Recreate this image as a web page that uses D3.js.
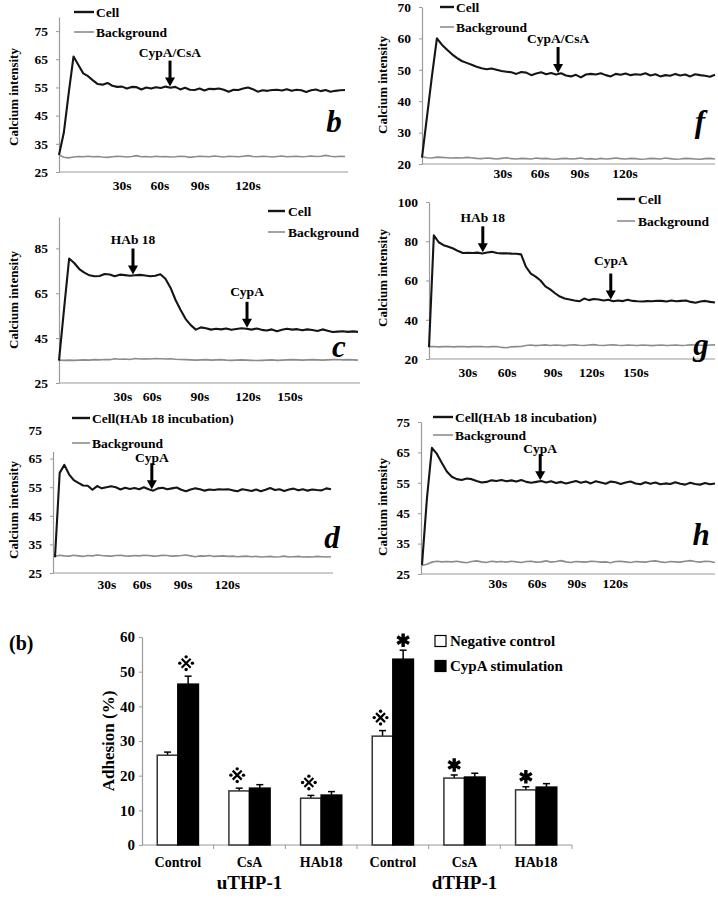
<!DOCTYPE html>
<html><head><meta charset="utf-8">
<script src="https://cdn.jsdelivr.net/npm/d3@7/dist/d3.min.js"></script>
<style>
body{margin:0;background:#fff}
svg{display:block}
text{font-family:"Liberation Serif","Times New Roman",serif;font-weight:bold;fill:#000}
</style>
</head><body>
<svg id="fig" width="718" height="899"></svg>
<script>
// ---------- Calcium traces (sampled values) ----------
const cellB = [31,39,53,66,63,60,59,57.5,56.2,56,
  56.6,55.6,55.2,55.3,54.6,55.2,55.1,54.3,55,54.6,
  55.1,54.8,55.3,54.9,55.2,54.3,54.9,54.2,54.1,54.6,
  53.9,54.5,54.4,54.6,54.2,53.5,54.2,54.1,54.6,55,
  54.4,53.5,54,53.8,54.1,54.2,53.9,54.4,53.8,54.2,
  54,53.4,54,54.3,53.7,54.1,53.5,53.8,54,54.1];
const bgB = [31.0,30.2,30.0,30.3,30.5,30.4,30.6,30.4,30.5,30.3,
  30.2,30.4,30.6,30.5,30.3,30.5,30.8,30.4,30.5,30.3,
  30.6,30.4,30.5,30.3,30.4,30.6,30.5,30.2,30.4,30.6,
  30.5,30.4,30.7,30.5,30.3,30.6,30.5,30.4,30.6,30.8,
  30.5,30.4,30.6,30.5,30.3,30.5,30.7,30.4,30.5,30.6,
  30.4,30.5,30.7,30.5,30.6,30.9,30.6,30.4,30.6,30.5];

const cellF = [22,35,48,60,58,56.5,55,53.8,52.8,52.2,
  51.6,51,50.5,50.2,50.4,50,49.6,49.4,49.2,48.7,
  49.3,49.1,48.3,48.8,49.2,48.6,49,48.5,48.9,48.2,
  47.9,48.4,47.6,48.5,48.7,48.5,48.9,48.3,47.9,48.7,
  48.4,48.8,48.3,48.6,48.4,48.9,48.2,48.6,47.9,48.3,
  48.1,48.7,48.2,48.5,47.9,48.6,48.3,48.1,47.8,48.4];
const bgF = [22.3,22.0,21.9,22.2,22.1,22.0,21.9,22.0,21.9,22.1,
  22.0,21.8,21.7,21.9,21.8,21.6,21.8,22.0,21.7,21.6,
  21.8,21.7,21.6,21.9,21.7,21.8,21.6,21.5,21.7,21.8,
  21.6,21.7,21.9,21.6,21.7,21.5,21.8,21.6,21.7,21.9,
  21.7,21.6,21.8,21.7,21.5,21.6,21.8,21.7,21.6,21.9,
  21.7,21.5,21.6,21.8,21.7,21.6,21.5,21.7,21.8,21.6];

const cellC = [35,58,80.5,78.5,75.8,74.2,73,72.6,72.7,73.6,
  73.4,72.6,73.3,73.1,72.8,73,73.2,72.9,72.6,72.8,
  73.5,71.5,67.5,62,57.5,53.5,50.8,48.8,49.8,49.4,
  48.8,49.2,48.9,49.3,48.7,49.1,49.4,49.2,48.8,49.3,
  48.7,48.4,48.9,48.1,48.7,49.2,48.8,49,48.5,48.9,
  48.6,48.2,48.9,48.3,47.7,47.9,48.1,47.8,48,47.8];
const bgC = [35.2,35.1,35.2,35.1,35.2,35.3,35.2,35.4,35.3,35.5,
  35.4,35.8,35.6,35.7,35.5,35.9,35.7,35.8,35.7,35.9,
  35.8,35.7,35.8,35.6,35.5,35.4,35.3,35.2,35.3,35.4,
  35.2,35.3,35.4,35.2,35.1,35.2,35.3,35.2,35.1,35.0,
  35.1,35.2,35.3,35.1,35.2,35.3,35.4,35.3,35.2,35.3,
  35.4,35.3,35.2,35.3,35.4,35.5,35.3,35.4,35.3,35.2];

const cellG = [26,83,79.5,78,77.2,76.3,75,74,74.1,74,
  74.2,73.8,74.3,74.6,74,73.8,73.9,73.7,73.6,73.3,
  67,63.5,62,60,57,55.5,53.5,51.8,50.8,50.3,
  49.8,49.4,50.8,50,50.6,50.3,49.8,50.2,49.4,49.8,
  49.5,50.2,49.6,49.4,49.3,49.5,49.4,49.7,49.6,49.3,
  49.8,49.4,49.6,49.8,49.1,48.7,49.3,49.6,49.1,48.8];
const bgG = [26.3,26.4,26.2,26.3,26.4,26.2,26.3,26.4,26.2,26.3,
  26.3,26.4,26.1,26.3,26.4,25.9,25.7,26.2,26.3,26.4,
  26.9,27.1,26.8,27.0,27.2,26.9,27.1,27.0,26.8,27.1,
  27.2,27.0,26.9,27.1,27.3,27.0,26.9,27.1,27.2,27.0,
  26.9,27.1,27.0,26.9,27.1,27.0,26.8,27.0,27.1,26.9,
  27.0,27.1,26.9,27.0,27.2,27.1,27.0,26.9,27.1,27.2];

const cellD = [30.5,60,62.8,59.5,57.5,56.5,55.6,55.5,54.1,55.4,
  54.6,55,55.3,55,54.2,54.8,54.4,54.7,54.3,55,
  54.3,53.8,54.6,54.8,54.3,54.6,54.9,54.1,53.6,54.2,
  54.6,54.3,53.8,54.2,54,54.3,54.2,54.3,53.9,53.6,
  54.3,54,53.7,54.2,53.6,54.1,54.7,54,54.3,53.7,
  54.2,54.5,53.9,54.3,53.8,54.2,54,53.9,54.6,54.3];
const bgD = [30.8,31.2,31.0,30.9,31.2,31.0,30.8,31.1,31.0,31.3,
  31.1,31.0,30.9,31.1,31.2,31.0,30.9,31.1,31.0,31.2,
  31.1,30.9,31.0,31.2,31.1,30.9,31.0,31.1,31.3,31.0,
  30.7,31.0,30.9,31.1,30.8,30.9,31.0,30.8,30.9,30.7,
  30.8,30.9,30.7,30.8,30.6,30.7,30.8,30.6,30.7,30.9,
  30.6,30.7,30.8,30.6,30.7,30.6,30.8,30.7,30.6,30.7];

const cellH = [28,50,66.5,64.5,61.5,58.7,57,56.2,55.9,56.4,
  56.2,55.6,55.1,55.3,55.8,55.6,55.9,55.5,55.8,55.4,
  55.9,55.3,55,55.3,55.6,55.1,55.5,54.9,55.3,54.8,
  55.2,55.6,55,55.4,54.8,55.5,55.1,54.7,55.4,55.2,
  54.6,55.1,55.4,54.8,54.5,55.2,54.7,55.1,54.5,54.8,
  54.6,55.2,54.7,54.4,55,54.6,54.4,54.9,54.5,54.8];
const bgH = [27.8,28.2,28.9,29.2,29.0,29.1,29.0,29.2,28.9,28.7,
  29.1,29.3,29.0,28.8,29.2,29.0,29.1,28.9,29.2,29.0,
  28.8,29.1,29.2,28.9,29.0,29.3,28.9,29.1,29.4,29.0,
  28.8,29.1,29.0,28.9,29.2,29.1,28.9,29.0,28.7,29.1,
  29.2,29.0,28.8,29.1,29.0,28.9,29.2,29.3,29.0,28.8,
  29.1,29.0,28.9,29.2,29.4,29.1,28.9,29.2,29.1,28.8];

// time tick labels and their sample positions
const timeLabels4 = ["30s","60s","90s","120s"];
const timeLabels5 = ["30s","60s","90s","120s","150s"];
const timeAtB = [13.0,20.8,29.1,39.0];
const timeAtF = [16.3,23.8,31.8,40.9];
const timeAtC = [12.6,18.4,27.8,37.3,45.6];
const timeAtG = [8.0,16.1,25.6,33.6,42.7];
const timeAtD = [11.1,18.6,27.4,36.8];
const timeAtH = [15.3,23.2,31.2,38.9];

const ticks25to75 = [25,35,45,55,65,75];
const ticks20to70 = [20,30,40,50,60,70];
const ticksC = [25,45,65,85];
const ticksG = [20,40,60,80,100];

// arrows: label + sample position
const arrowsB = [{label:"CypA/CsA", at:22.9}];
const arrowsF = [{label:"CypA/CsA", at:27.4}];
const arrowsC = [{label:"HAb 18", at:14.6}, {label:"CypA", at:37.1}];
const arrowsG = [{label:"HAb 18", at:11.1}, {label:"CypA", at:37.5}];
const arrowsD = [{label:"CypA", at:20.7}];
const arrowsH = [{label:"CypA", at:23.8}];

// ---------- Adhesion bar chart ----------
const cellGroups = ["uTHP-1","dTHP-1"];
const treatments = ["Control","CsA","HAb18","Control","CsA","HAb18"];
const seriesNames = ["Negative control","CypA stimulation"];
const negValues  = [25.9,15.6,13.5,31.4,19.3,15.9];
const negErrors  = [0.9,0.8,0.8,1.6,0.9,0.9];
const cypaValues = [46.4,16.4,14.4,53.6,19.6,16.7];
const cypaErrors = [2.3,1.0,1.0,2.6,1.1,1.0];
const adhesionTicks = [0,10,20,30,40,50,60];
const sigMarks = [
  {cat:0, s:1, sym:"ref"}, {cat:1, s:0, sym:"ref"}, {cat:2, s:0, sym:"ref"},
  {cat:3, s:0, sym:"ref"}, {cat:3, s:1, sym:"star"}, {cat:4, s:0, sym:"star"}, {cat:5, s:0, sym:"star"}
];

// ================= drawing =================
const svg = d3.select("#fig");
svg.append("rect").attr("width",718).attr("height",899).attr("fill","#fff");
const AX = "#9a9a9a";
const SERIF = "'Liberation Serif','Times New Roman',serif";

function valueAt(arr, t){
  const i = Math.floor(t), f = t - i;
  if (i >= arr.length-1) return arr[arr.length-1];
  return d3.interpolateNumber(arr[i], arr[i+1])(f);
}

function linePanel(cell, bg, times, timeLabels, yTicks, arrows, L){
  const g = svg.append("g");
  const x = d3.scaleLinear().domain([0, cell.length-1]).range([L.x0, L.x1]);
  const y = d3.scaleLinear().domain(L.yDomain).range([L.yBottom, L.yTop]);

  g.append("line").attr("x1",L.axisX).attr("x2",L.xEnd)
    .attr("y1",L.yBottom).attr("y2",L.yBottom).attr("stroke",AX).attr("stroke-width",1.2);
  const ag = g.append("g").attr("transform",`translate(${L.axisX},0)`)
    .call(d3.axisLeft(y).tickValues(yTicks).tickSize(3).tickSizeOuter(0).tickPadding(8).tickFormat(d3.format("d")));
  ag.attr("font-family",SERIF).attr("font-size",13);
  ag.select(".domain").attr("stroke",AX).attr("stroke-width",1.2);
  ag.selectAll(".tick line").attr("stroke",AX);
  ag.selectAll(".tick text").style("font-size","13.5px");

  if (L.cover) g.append("rect").attr("x",L.cover[0]).attr("y",L.cover[1])
    .attr("width",L.cover[2]).attr("height",L.cover[3]).attr("fill","#fff");

  // x labels
  g.selectAll(".xl").data(times).enter().append("text")
    .attr("x", d => x(d)).attr("y", L.labelY).attr("text-anchor","middle")
    .style("font-size","13.5px").text((d,i) => timeLabels[i]);

  // y title
  g.append("text").attr("transform",`translate(${L.titleX},${L.titleY}) rotate(-90)`)
    .attr("text-anchor","middle").attr("dy","0.35em").style("font-size","13px").text("Calcium intensity");

  const line = d3.line().x((d,i)=>x(i)).y(d=>y(d));
  g.append("path").datum(bg).attr("d",line).attr("fill","none").attr("stroke","#8c8c8c").attr("stroke-width",1.6);
  g.append("path").datum(cell).attr("d",line).attr("fill","none").attr("stroke","#151515").attr("stroke-width",2.1).attr("stroke-linejoin","round");

  // legend
  [[L.cellName,"#151515",2.4,L.ly[0]],["Background","#8c8c8c",1.6,L.ly[1]]].forEach(([nm,col,w,yy])=>{
    g.append("line").attr("x1",L.lx[0]).attr("x2",L.lx[1]).attr("y1",yy).attr("y2",yy).attr("stroke",col).attr("stroke-width",w);
    g.append("text").attr("x",L.lx[2]).attr("y",yy+4.5).style("font-size","13.5px").text(nm);
  });

  // arrows
  arrows.forEach((a,k)=>{
    const ax = x(a.at), tip = y(valueAt(cell,a.at)) - 1, top = tip - 26;
    g.append("line").attr("x1",ax).attr("x2",ax).attr("y1",top).attr("y2",tip-7).attr("stroke","#000").attr("stroke-width",3);
    g.append("path").attr("d",`M${ax-5},${tip-9}L${ax+5},${tip-9}L${ax},${tip}Z`).attr("fill","#000");
    g.append("text").attr("x",ax).attr("y",top - L.gaps[k]).attr("text-anchor","middle").style("font-size","13.5px").text(a.label);
  });

  g.append("text").attr("x",L.letter[1]).attr("y",L.letter[2]).attr("text-anchor","middle")
    .style("font-size","31px").style("font-style","italic").text(L.letter[0]);
}

linePanel(cellB, bgB, timeAtB, timeLabels4, ticks25to75, arrowsB, {
  x0:59,x1:345,axisX:59,xEnd:348,yDomain:[25,80],yBottom:172,yTop:17,labelY:190,
  titleX:13,titleY:97,lx:[74,94,96],ly:[12,32],cellName:"Cell",gaps:[4],letter:["b",334,132]});
linePanel(cellF, bgF, timeAtF, timeLabels4, ticks20to70, arrowsF, {
  x0:422,x1:715,axisX:422,xEnd:715,yDomain:[20,70],yBottom:164,yTop:7,labelY:178,
  titleX:382,titleY:85,lx:[440,454,456],ly:[7,27],cellName:"Cell",gaps:[4],letter:["f",700,132]});
linePanel(cellC, bgC, timeAtC, timeLabels5, ticksC, arrowsC, {
  x0:59,x1:358,axisX:59,xEnd:360,yDomain:[25,99],yBottom:383,yTop:217,labelY:401,
  titleX:13,titleY:300,lx:[268,285,288],ly:[211,232],cellName:"Cell",gaps:[5,6],letter:["c",339,357]});
linePanel(cellG, bgG, timeAtG, timeLabels5, ticksG, arrowsG, {
  x0:429,x1:715,axisX:429,xEnd:715,yDomain:[20,100],yBottom:359,yTop:202,labelY:377,
  titleX:382,titleY:278,lx:[617,635,638],ly:[199,221],cellName:"Cell",gaps:[4,9],letter:["g",701,355]});
linePanel(cellD, bgD, timeAtD, timeLabels4, ticks25to75, arrowsD, {
  x0:55,x1:331,axisX:53,xEnd:333,yDomain:[25,75],yBottom:573,yTop:430,labelY:589,
  titleX:13,titleY:510,lx:[72,90,92],ly:[418,443],cellName:"Cell(HAb 18 incubation)",gaps:[1],
  letter:["d",332,548],cover:[49,405,200,47]});
linePanel(cellH, bgH, timeAtH, timeLabels4, ticks25to75, arrowsH, {
  x0:422,x1:715,axisX:421,xEnd:715,yDomain:[25,75],yBottom:574,yTop:422,labelY:588,
  titleX:382,titleY:507,lx:[433,453,455],ly:[417,435],cellName:"Cell(HAb 18 incubation)",gaps:[1],letter:["h",701,545]});

// ---------- bar chart ----------
(function(){
  const g = svg.append("g");
  const x0 = d3.scaleBand().domain(d3.range(treatments.length)).range([142,572]).padding(0);
  const x1 = d3.scaleBand().domain([0,1]).range([0,x0.bandwidth()]).paddingInner(0).paddingOuter(0.74);
  const y = d3.scaleLinear().domain([0,60]).range([845,637]);
  const vals = [negValues, cypaValues], errs = [negErrors, cypaErrors];

  g.append("text").attr("x",9).attr("y",650).style("font-size","20px").text("(b)");

  const ag = g.append("g").attr("transform","translate(142,0)")
    .call(d3.axisLeft(y).tickValues(adhesionTicks).tickSize(3).tickSizeOuter(0).tickPadding(4));
  ag.attr("font-family",SERIF);
  ag.select(".domain").attr("stroke",AX).attr("stroke-width",1.2);
  ag.selectAll(".tick line").attr("stroke",AX);
  ag.selectAll(".tick text").style("font-size","15px");

  g.append("line").attr("x1",142).attr("x2",572).attr("y1",845).attr("y2",845).attr("stroke",AX).attr("stroke-width",1.2);
  g.selectAll(".sep").data(d3.range(1,treatments.length+1)).enter().append("line")
    .attr("x1",d=>142+d*x0.bandwidth()).attr("x2",d=>142+d*x0.bandwidth())
    .attr("y1",845).attr("y2",849).attr("stroke",AX);

  g.append("text").attr("transform","translate(108,741) rotate(-90)").attr("text-anchor","middle")
    .attr("dy","0.35em").style("font-size","17px").text("Adhesion (%)");

  const bars = [];
  treatments.forEach((t,i)=>[0,1].forEach(s=>bars.push({i,s,v:vals[s][i],e:errs[s][i]})));
  g.selectAll(".eb").data(bars).enter().append("line")
    .attr("x1",d=>x0(d.i)+x1(d.s)+x1.bandwidth()/2).attr("x2",d=>x0(d.i)+x1(d.s)+x1.bandwidth()/2)
    .attr("y1",d=>y(d.v)).attr("y2",d=>y(d.v+d.e)).attr("stroke","#000").attr("stroke-width",1.5);
  g.selectAll(".ec").data(bars).enter().append("line")
    .attr("x1",d=>x0(d.i)+x1(d.s)+x1.bandwidth()/2-3.5).attr("x2",d=>x0(d.i)+x1(d.s)+x1.bandwidth()/2+3.5)
    .attr("y1",d=>y(d.v+d.e)).attr("y2",d=>y(d.v+d.e)).attr("stroke","#000").attr("stroke-width",1.5);
  g.selectAll(".bar").data(bars).enter().append("rect")
    .attr("x",d=>x0(d.i)+x1(d.s)).attr("width",x1.bandwidth())
    .attr("y",d=>y(d.v)).attr("height",d=>845-y(d.v))
    .attr("fill",d=>d.s?"#000":"#fff").attr("stroke",d=>d.s?"#000":"#333").attr("stroke-width",1.5);

  // significance marks (reference mark drawn as saltire with four dots; heavy asterisk)
  sigMarks.forEach(m=>{
    const cx = x0(m.cat)+x1(m.s)+x1.bandwidth()/2;
    const top = y(vals[m.s][m.cat]+errs[m.s][m.cat]);
    if (m.sym==="ref"){
      const mg = g.append("g").attr("transform",`translate(${cx-2},${top-13})`);
      mg.append("path").attr("d","M-4.5,-4.5L4.5,4.5M-4.5,4.5L4.5,-4.5")
        .attr("stroke","#000").attr("stroke-width",2.2).attr("fill","none");
      [[0,-6.3],[0,6.3],[-6.3,0],[6.3,0]].forEach(([dx,dy])=>
        mg.append("circle").attr("cx",dx).attr("cy",dy).attr("r",1.7).attr("fill","#000"));
    } else {
      g.append("path").attr("transform",`translate(${cx},${top-10})`)
        .attr("d",d3.symbol(d3.symbolAsterisk,130)()).attr("fill","none").attr("stroke","#000").attr("stroke-width",3.4);
    }
  });

  // category labels
  g.selectAll(".cl").data(treatments).enter().append("text")
    .attr("x",(d,i)=>x0(i)+x0.bandwidth()/2).attr("y",867).attr("text-anchor","middle")
    .style("font-size","14px").text(d=>d);
  cellGroups.forEach((gn,k)=>{
    g.append("text").attr("x",x0(k*3+1)+x0.bandwidth()/2).attr("y",889).attr("text-anchor","middle")
      .style("font-size","19px").text(gn);
  });

  // legend
  seriesNames.forEach((nm,k)=>{
    const yy = 641 + k*25;
    g.append("rect").attr("x",435).attr("y",yy-5.5).attr("width",11).attr("height",11)
      .attr("fill",k?"#000":"#fff").attr("stroke","#000").attr("stroke-width",1.2);
    g.append("text").attr("x",450).attr("y",yy+5).style("font-size","15px").text(nm);
  });
})();
</script>
</body></html>
